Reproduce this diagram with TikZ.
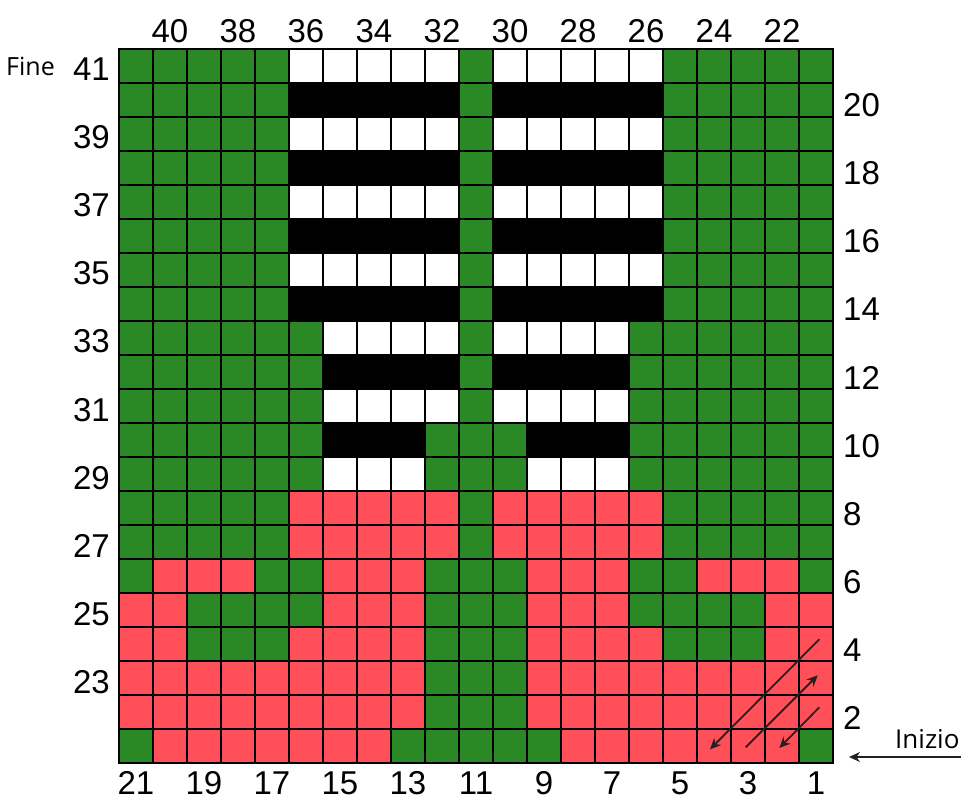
\documentclass[tikz,border=0pt]{standalone}
\usepackage{fontspec}
\setmainfont{Liberation Sans}
\newfontfamily\osans{Open Sans}
\usetikzlibrary{arrows.meta}
\definecolor{cG}{RGB}{42,137,37}
\definecolor{cR}{RGB}{255,80,90}
\definecolor{cW}{RGB}{255,255,255}
\definecolor{cB}{RGB}{0,0,0}
\definecolor{arr}{RGB}{34,34,34}
\begin{document}
\begin{tikzpicture}[x=1pt,y=-1pt,
  num/.style={font=\fontsize{33}{33}\selectfont, inner sep=0pt},
  word/.style={font=\osans\fontsize{25}{25}\selectfont, inner sep=0pt},
  gridline/.style={line width=1.8pt, black, line cap=rect},
  runarrow/.style={draw=arr, line width=1.8pt, -{Stealth[length=11pt,width=10pt]}},
  startarrow/.style={draw=arr, line width=1.5pt, -{Stealth[length=11pt,width=10pt]}}]
\useasboundingbox (0,0) rectangle (961,799);
\fill[white] (0,0) rectangle (961,799);
% cells
\foreach \rowc [count=\ri from 0] in {
  {G,G,G,G,G,W,W,W,W,W,G,W,W,W,W,W,G,G,G,G,G},
  {G,G,G,G,G,B,B,B,B,B,G,B,B,B,B,B,G,G,G,G,G},
  {G,G,G,G,G,W,W,W,W,W,G,W,W,W,W,W,G,G,G,G,G},
  {G,G,G,G,G,B,B,B,B,B,G,B,B,B,B,B,G,G,G,G,G},
  {G,G,G,G,G,W,W,W,W,W,G,W,W,W,W,W,G,G,G,G,G},
  {G,G,G,G,G,B,B,B,B,B,G,B,B,B,B,B,G,G,G,G,G},
  {G,G,G,G,G,W,W,W,W,W,G,W,W,W,W,W,G,G,G,G,G},
  {G,G,G,G,G,B,B,B,B,B,G,B,B,B,B,B,G,G,G,G,G},
  {G,G,G,G,G,G,W,W,W,W,G,W,W,W,W,G,G,G,G,G,G},
  {G,G,G,G,G,G,B,B,B,B,G,B,B,B,B,G,G,G,G,G,G},
  {G,G,G,G,G,G,W,W,W,W,G,W,W,W,W,G,G,G,G,G,G},
  {G,G,G,G,G,G,B,B,B,G,G,G,B,B,B,G,G,G,G,G,G},
  {G,G,G,G,G,G,W,W,W,G,G,G,W,W,W,G,G,G,G,G,G},
  {G,G,G,G,G,R,R,R,R,R,G,R,R,R,R,R,G,G,G,G,G},
  {G,G,G,G,G,R,R,R,R,R,G,R,R,R,R,R,G,G,G,G,G},
  {G,R,R,R,G,G,R,R,R,G,G,G,R,R,R,G,G,R,R,R,G},
  {R,R,G,G,G,G,R,R,R,G,G,G,R,R,R,G,G,G,G,R,R},
  {R,R,G,G,G,R,R,R,R,G,G,G,R,R,R,R,G,G,G,R,R},
  {R,R,R,R,R,R,R,R,R,G,G,G,R,R,R,R,R,R,R,R,R},
  {R,R,R,R,R,R,R,R,R,G,G,G,R,R,R,R,R,R,R,R,R},
  {G,R,R,R,R,R,R,R,G,G,G,G,G,R,R,R,R,R,R,R,G}} {
  \foreach \cc [count=\ci from 0] in \rowc {
    \fill[fill=c\cc] ({119+34*\ci},{49+34*\ri}) rectangle ++(34,34);
  }
}
% grid
\foreach \i in {0,...,21} {
  \draw[gridline] ({119+34*\i},49) -- ({119+34*\i},763);
  \draw[gridline] (119,{49+34*\i}) -- (833,{49+34*\i});
}
% top labels
\foreach \c in {1,3,...,19} {
  \pgfmathtruncatemacro\lab{41-\c}
  \node[num, anchor=base] (top\c) at ({136+34*\c},43) {\lab};
}
% bottom labels
\foreach \c in {0,2,...,20} {
  \pgfmathtruncatemacro\lab{21-\c}
  \node[num, anchor=base] (bot\c) at ({136+34*\c},794) {\lab};
}
% left labels
\foreach \r in {0,2,...,18} {
  \pgfmathtruncatemacro\lab{41-\r}
  \node[num, anchor=base east] (lft\r) at (110,{81+34*\r}) {\lab};
}
% right labels
\foreach \r in {1,3,...,19} {
  \pgfmathtruncatemacro\lab{21-\r}
  \node[num, anchor=base west] (rgt\r) at (843,{83+34*\r}) {\lab};
}
\node[word, anchor=base west] (fine) at (6,76) {Fine};
\node[word, font=\osans\fontsize{26}{26}\selectfont, anchor=base west] (inizio) at (895,748) {Inizio};
% arrows
\coordinate (a1s) at (819.3,639.3);
\coordinate (a1e) at (710,749.3);
\coordinate (a2s) at (745.7,747.3);
\coordinate (a2e) at (817.7,675.3);
\coordinate (a3s) at (819.3,707.3);
\coordinate (a3e) at (779.3,748);
\coordinate (is) at (961,757);
\coordinate (ie) at (849,757);
\draw[runarrow] (a1s) -- (a1e);
\draw[runarrow] (a2s) -- (a2e);
\draw[runarrow] (a3s) -- (a3e);
\draw[startarrow] (is) -- (ie);
\end{tikzpicture}
\end{document}
